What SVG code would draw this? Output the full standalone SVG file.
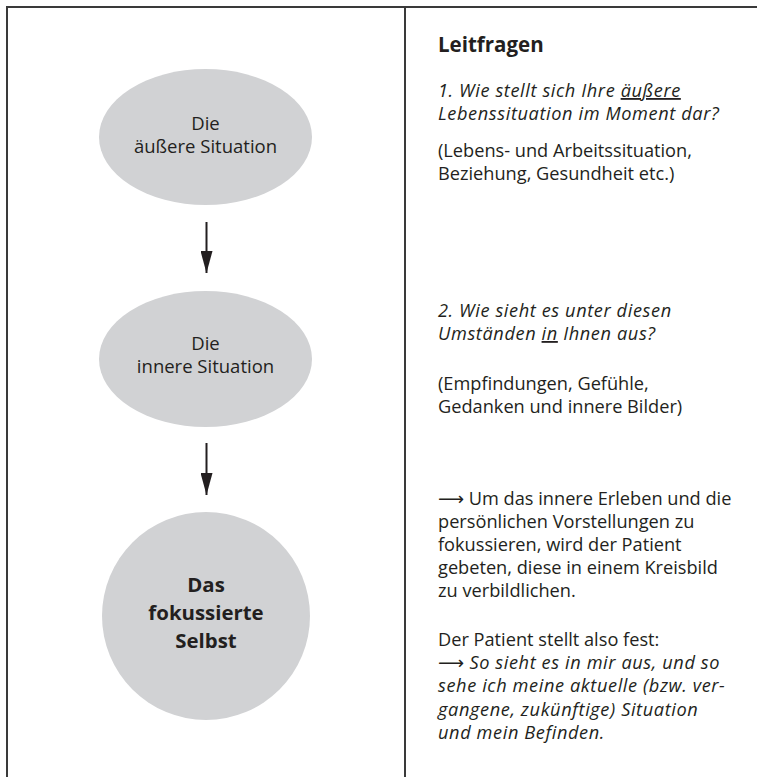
<svg xmlns="http://www.w3.org/2000/svg" width="757" height="777" viewBox="0 0 757 777">
<style>
.node{fill:#d1d2d4}
.lbl{font-family:"Open Sans","Noto Sans",sans-serif;font-size:18.5px;fill:#231f20;text-anchor:middle}
.blbl{font-family:"Open Sans","Noto Sans",sans-serif;font-size:20.4px;font-weight:bold;fill:#231f20;text-anchor:middle}
.t{font-family:"Open Sans","Noto Sans",sans-serif;font-size:18.2px;fill:#231f20}
.i{font-style:italic;letter-spacing:0.6px}
.ar{font-family:"DejaVu Sans",sans-serif;font-style:normal;letter-spacing:0}
.h{font-family:"Open Sans","Noto Sans",sans-serif;font-size:20.5px;font-weight:bold;fill:#231f20}
.frame{stroke:#3a3a3a;stroke-width:2;fill:none}
.conn{stroke:#231f20;stroke-width:2;fill:none}
</style>
<defs>
<marker id="ah" markerWidth="22" markerHeight="12" refX="22" refY="6" orient="auto" markerUnits="userSpaceOnUse" viewBox="0 0 22 12">
<path d="M0,0 L22,6 L0,12 Z" fill="#231f20"/>
</marker>
</defs>
<g id="frame">
<path class="frame" d="M7,777 V7 H757"/>
<path class="frame" d="M405,7 V777"/>
</g>
<g id="connectors">
<path class="conn" d="M206.5,222 V273" marker-end="url(#ah)"/>
<path class="conn" d="M206.5,443 V495" marker-end="url(#ah)"/>
</g>
<g id="node-aeussere">
<ellipse class="node" cx="205.5" cy="137" rx="106.5" ry="68"/>
<text class="lbl" x="205.5" y="130">Die</text>
<text class="lbl" x="205.5" y="153">äußere Situation</text>
</g>
<g id="node-innere">
<ellipse class="node" cx="205.5" cy="359" rx="106.5" ry="68"/>
<text class="lbl" x="205.5" y="350">Die</text>
<text class="lbl" x="205.5" y="373">innere Situation</text>
</g>
<g id="node-selbst">
<circle class="node" cx="206" cy="616" r="104"/>
<text class="blbl" x="206" y="592">Das</text>
<text class="blbl" x="206" y="620">fokussierte</text>
<text class="blbl" x="206" y="648">Selbst</text>
</g>
<g id="leitfragen">
<text class="h" x="438" y="52">Leitfragen</text>
<text class="t i" x="438" y="97">1. Wie stellt sich Ihre <tspan text-decoration="underline">äußere</tspan></text>
<text class="t i" x="438" y="120">Lebenssituation im Moment dar?</text>
<text class="t" x="438" y="157">(Lebens- und Arbeitssituation,</text>
<text class="t" x="438" y="180">Beziehung, Gesundheit etc.)</text>
<text class="t i" x="438" y="317">2. Wie sieht es unter diesen</text>
<text class="t i" x="438" y="340">Umständen <tspan text-decoration="underline">in</tspan> Ihnen aus?</text>
<text class="t" x="438" y="390">(Empfindungen, Gefühle,</text>
<text class="t" x="438" y="413">Gedanken und innere Bilder)</text>
<text class="t" x="438" y="505"><tspan class="ar">⟶</tspan> Um das innere Erleben und die</text>
<text class="t" x="438" y="528">persönlichen Vorstellungen zu</text>
<text class="t" x="438" y="551">fokussieren, wird der Patient</text>
<text class="t" x="438" y="574">gebeten, diese in einem Kreisbild</text>
<text class="t" x="438" y="597">zu verbildlichen.</text>
<text class="t" x="438" y="646">Der Patient stellt also fest:</text>
<text class="t i" x="438" y="669"><tspan class="ar">⟶</tspan> So sieht es in mir aus, und so</text>
<text class="t i" x="438" y="692">sehe ich meine aktuelle (bzw. ver-</text>
<text class="t i" x="438" y="716">gangene, zukünftige) Situation</text>
<text class="t i" x="438" y="739">und mein Befinden.</text>
</g>
</svg>
